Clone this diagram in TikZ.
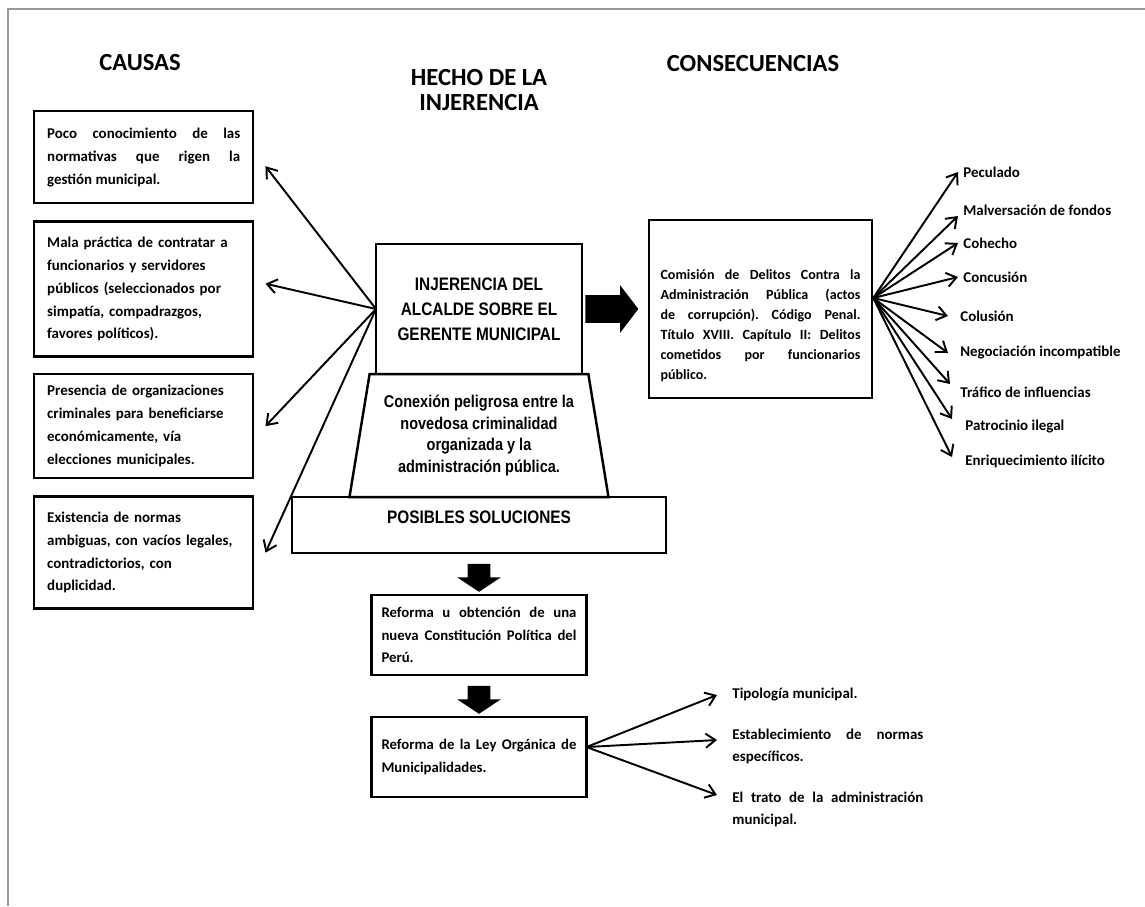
\documentclass[tikz,border=0pt]{standalone}
\usepackage{fontspec}
\setmainfont{Carlito}
\newfontfamily\narrowfont[FakeStretch=0.85]{Liberation Sans}
\usetikzlibrary{calc}
\usetikzlibrary{arrows.meta,positioning,shapes.geometric,shapes.arrows}
\definecolor{framegray}{gray}{0.6}
\frenchspacing

\begin{document}
\begin{tikzpicture}[>={Straight Barb[length=5.5pt,width=8pt]}]
        \tikzset{title/.style={align=center, font=\bfseries\fontsize{14}{14}\selectfont},
        cause/.style={draw, line width=1.4pt, anchor=north west, align=left, text width=3.86cm,
            minimum width=4.38cm, inner xsep=0.26cm, inner ysep=0.2cm, font=\bfseries\fontsize{8.5}{13}\selectfont},
        hecho/.style={draw, line width=1.4pt, outer sep=0pt, align=center, minimum width=4.12cm, minimum height=2.6cm,
            font=\narrowfont\bfseries\fontsize{10.3}{14.2}\selectfont},
        trap/.style={ % requires library shapes.geometric
            draw, line width=1.4pt, outer sep=0pt,
            trapezium,
            trapezium left angle=77.8,
            trapezium right angle=77.8,
            trapezium stretches body,
            minimum width=5.18cm,
            minimum height=2.46cm,
            align=center,
            font=\narrowfont\bfseries\fontsize{9.7}{12.4}\selectfont
        },
        solbox/.style={draw, line width=1.4pt, outer sep=0pt, minimum width=7.48cm, minimum height=1.12cm,
            text depth=0.32cm, font=\narrowfont\bfseries\fontsize{10.3}{12}\selectfont},
        consbox/.style={draw, line width=1.4pt, align=justify, text width=4.0cm, minimum width=4.46cm,
            minimum height=3.56cm, inner xsep=0.23cm, text height=0.86cm, font=\bfseries\fontsize{8}{11.4}\selectfont},
        stepbox/.style={draw, line width=1.4pt, outer sep=0pt, align=justify, text width=3.9cm, minimum width=4.3cm,
            minimum height=1.6cm, inner xsep=0.2cm, font=\bfseries\fontsize{8.4}{12.8}\selectfont},
        item/.style={anchor=west, inner sep=0pt, font=\bfseries\fontsize{8.5}{12.5}\selectfont},
        bigarrow/.style={single arrow, fill=black, single arrow head indent=0pt},
        downarrow/.style={bigarrow, shape border rotate=270, minimum height=0.56cm, inner xsep=0.22cm,
            inner ysep=0pt, single arrow head extend=0.21cm, single arrow tip angle=113},
        link/.style={->, line width=1.1pt},
        }
        \fill[white] (0,0) rectangle (22.9,-18.12);
        \useasboundingbox (0,0) rectangle (22.9,-18.12);
        \draw[framegray, line width=1.7pt] (0.16,-18.12) -- (0.16,-0.18) -- (22.9,-0.18);
%%% titles
        \node [title] (causas) at (2.80,-1.26) {CAUSAS};
        \node [title] (hecho) at (9.58,-1.80) {HECHO DE LA\\INJERENCIA};
        \node [title] (consec) at (15.06,-1.28) {CONSECUENCIAS};
%%% causes
        \node [cause, align=justify, minimum height=1.84cm] (c1) at (0.66,-2.20)
            {Poco conocimiento de las\linebreak normativas que rigen la\linebreak gestión municipal.};
        \node [cause, minimum height=2.7cm, below=0.32cm of c1] (c2)
            {Mala práctica de contratar a\\funcionarios y servidores\\públicos (seleccionados por\\simpatía, compadrazgos,\\favores políticos).};
        \node [cause, minimum height=2.08cm, below=0.3cm of c2] (c3)
            {Presencia de organizaciones\\criminales para beneficiarse\\económicamente, vía\\elecciones municipales.};
        \node [cause, minimum height=2.24cm, below=0.32cm of c3] (c4)
            {Existencia de normas\\ambiguas, con vacíos legales,\\contradictorios, con\\duplicidad.};
%%% centre column
        \node [hecho] (inj) at (9.58,-6.18) {INJERENCIA DEL\\ALCALDE SOBRE EL\\GERENTE MUNICIPAL};
        \node [trap, anchor=north] (conex) at (inj.south)
            {Conexión peligrosa entre la\\novedosa criminalidad\\organizada y la\\administración pública.};
        \node [solbox, anchor=north] (sol) at (conex.south) {POSIBLES SOLUCIONES};
        \node [stepbox, below=0.84cm of sol] (ref)
            {Reforma u obtención de una\linebreak nueva Constitución Política del\linebreak Perú.};
        \node [stepbox, below=0.84cm of ref] (ley)
            {Reforma de la Ley Orgánica de\linebreak Municipalidades.};
        \node [downarrow] (down1) at ($(sol.south)!0.5!(ref.north)$) {};
        \node [downarrow] (down2) at ($(ref.south)!0.5!(ley.north)$) {};
%%% consequences
        \node [bigarrow, minimum height=1.06cm, inner xsep=0pt, inner ysep=0.27cm, single arrow head extend=0.2cm,
            single arrow tip angle=105, right=0.06cm of inj] (toconsec) {};
        \node [consbox, right=0.18cm of toconsec] (cons)
            {Comisión de Delitos Contra la\linebreak Administración Pública (actos\linebreak de corrupción). Código Penal.\linebreak
             Título XVIII. Capítulo II: Delitos\linebreak cometidos por funcionarios\linebreak público.};
        \coordinate (hub) at ([yshift=0.22cm]cons.east);
        \node [item] (pec) at (19.26,-3.44) {Peculado};
        \node [item] (malv) at (19.26,-4.20) {Malversación de fondos};
        \node [item] (coh) at (19.26,-4.86) {Cohecho};
        \node [item] (conc) at (19.26,-5.54) {Concusión};
        \node [item] (colu) at (19.20,-6.32) {Colusión};
        \node [item] (nego) at (19.20,-7.06) {Negociación incompatible};
        \node [item] (traf) at (19.20,-7.84) {Tráfico de influencias};
        \node [item] (patr) at (19.30,-8.54) {Patrocinio ilegal};
        \node [item] (enri) at (19.30,-9.22) {Enriquecimiento ilícito};
%%% solutions
        \coordinate (hubley) at ([yshift=0.2cm]ley.east);
        \node [item] (tipo) at (14.64,-13.90) {Tipología municipal.};
        \node [item, align=justify, text width=3.82cm] (normas) at (14.64,-14.93)
            {Establecimiento de normas\linebreak específicos.};
        \node [item, align=justify, text width=3.82cm] (trato) at (14.64,-16.19)
            {El trato de la administración\linebreak municipal.};
%%% paths
        \path[link] (inj.west) edge ([xshift=0.22cm,yshift=-0.18cm]c1.east)
                    (inj.west) edge ([xshift=0.22cm,yshift=0.11cm]c2.east)
                    (inj.west) edge ([xshift=0.22cm]c3.east)
                    (inj.west) edge ([xshift=0.22cm]c4.east)
                    (hub) edge ([xshift=-0.1cm]pec.west)
                    (hub) edge ([xshift=-0.1cm,yshift=-0.12cm]malv.west)
                    (hub) edge ([xshift=-0.1cm]coh.west)
                    (hub) edge ([xshift=-0.1cm]conc.west)
                    (hub) edge ([xshift=-0.24cm]colu.west)
                    (hub) edge ([xshift=-0.24cm]nego.west)
                    (hub) edge ([xshift=-0.2cm,yshift=0.16cm]traf.west)
                    (hub) edge ([xshift=-0.26cm,yshift=0.16cm]patr.west)
                    (hub) edge ([xshift=-0.26cm,yshift=0.08cm]enri.west)
                    (hubley) edge ([xshift=-0.3cm]tipo.west)
                    (hubley) edge ([xshift=-0.3cm,yshift=0.13cm]normas.west)
                    (hubley) edge ([xshift=-0.3cm,yshift=0.29cm]trato.west)
                    ;
\end{tikzpicture}
\end{document}
